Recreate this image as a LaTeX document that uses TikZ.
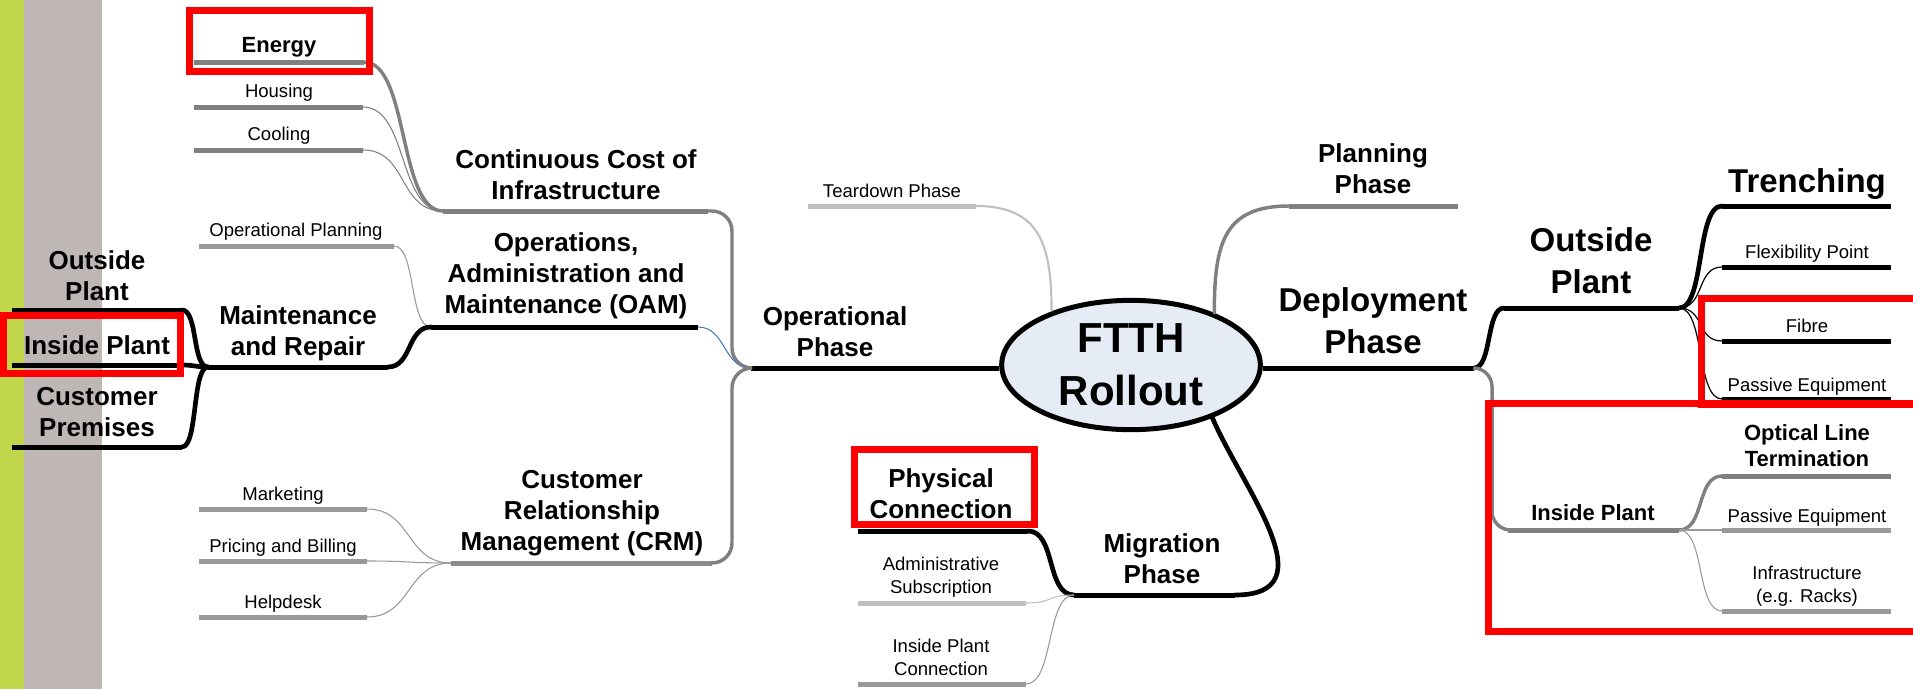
\documentclass[tikz,border=0pt]{standalone}
\usepackage{fontspec}
\setmainfont{Liberation Sans}
\usetikzlibrary{shapes.geometric,calc}
\definecolor{barGreen}{RGB}{193,214,74}
\definecolor{barTaupe}{RGB}{191,183,181}
\definecolor{ellFill}{RGB}{230,236,246}
\definecolor{gA}{RGB}{128,128,128}
\definecolor{gAB}{RGB}{140,140,140}
\definecolor{gB}{RGB}{153,153,153}
\definecolor{gC}{RGB}{192,192,192}
\definecolor{oamBlue}{RGB}{74,126,187}
\begin{document}
\begin{tikzpicture}[x=0.75pt,y=-0.75pt,
  tx/.style={inner sep=0pt, align=center, anchor=base},
  fbig/.style={tx, font=\fontsize{24.75}{31}\selectfont\bfseries},
  fmed/.style={tx, font=\fontsize{19.5}{23.25}\selectfont\bfseries},
  fsmb/.style={tx, font=\fontsize{16.5}{19.5}\selectfont\bfseries},
  freg/.style={tx, font=\fontsize{13.9}{17.25}\selectfont},
  ulK/.style={line width=3.75pt, black},
  ulA/.style={line width=3.75pt, gA},
  ulAB/.style={line width=3.75pt, gAB},
  ulB/.style={line width=3.75pt, gB},
  ulC/.style={line width=3.75pt, gC},
  cK/.style={line width=3.5pt, black, line cap=round},
  cKt/.style={line width=0.9pt, black},
  cA/.style={line width=2.6pt, gA, line cap=round},
  cAt/.style={line width=0.8pt, gA},
  cBt/.style={line width=0.8pt, gB},
  cC/.style={line width=1.6pt, gC},
  cCt/.style={line width=0.8pt, gC},
  redbox/.style={draw=red, line width=5.25pt, line join=miter}
]
\useasboundingbox (0,0) rectangle (1913,689);
% background bars
\fill[barGreen] (0,0) rectangle (24,689);
\fill[barTaupe] (24,0) rectangle (102,689);

% central topic
\node[ellipse, draw, line width=3.75pt, fill=ellFill, minimum width=194pt, minimum height=97pt,
      inner sep=0pt, align=center, font=\fontsize{31.5}{39.75}\selectfont\bfseries] (ftth) at (1131,365) {FTTH\\Rollout};

% coordinates (underline ends)
\coordinate (energyL) at (194,62);  \coordinate (energyR) at (364,62);
\coordinate (housingL) at (194,107); \coordinate (housingR) at (363,107);
\coordinate (coolingL) at (194,150); \coordinate (coolingR) at (363,150);
\coordinate (cciL) at (443,211); \coordinate (cciR) at (708,211);
\coordinate (oplanL) at (199,246); \coordinate (oplanR) at (394,246);
\coordinate (oamL) at (431,327); \coordinate (oamR) at (698,327);
\coordinate (mrL) at (208,367); \coordinate (mrR) at (388,367);
\coordinate (ospL) at (12,310); \coordinate (ospR) at (182,310);
\coordinate (ispL) at (12,365); \coordinate (ispR) at (182,365);
\coordinate (cpL) at (12,447); \coordinate (cpR) at (182,447);
\coordinate (crmL) at (451,563); \coordinate (crmR) at (712,563);
\coordinate (mktL) at (199,509); \coordinate (mktR) at (367,509);
\coordinate (prcL) at (199,561); \coordinate (prcR) at (367,561);
\coordinate (hlpL) at (199,617); \coordinate (hlpR) at (367,617);
\coordinate (opJ) at (751,368); \coordinate (opK) at (732,368);
\coordinate (tdL) at (808,206); \coordinate (tdR) at (976,206);
\coordinate (plL) at (1289,206); \coordinate (plR) at (1458,206);
\coordinate (pcL) at (858,531); \coordinate (pcR) at (1028,531);
\coordinate (asL) at (858,603); \coordinate (asR) at (1026,603);
\coordinate (ipcL) at (858,684); \coordinate (ipcR) at (1026,684);
\coordinate (migL) at (1074,595); \coordinate (migR) at (1235,595);
\coordinate (depR) at (1474,368);
\coordinate (orpL) at (1504,308); \coordinate (orpR) at (1679,308);
\coordinate (trL) at (1722,206); \coordinate (trR) at (1891,206);
\coordinate (flxL) at (1722,267); \coordinate (flxR) at (1891,267);
\coordinate (fibL) at (1722,341); \coordinate (fibR) at (1891,341);
\coordinate (peoL) at (1722,399); \coordinate (peoR) at (1891,399);
\coordinate (irpL) at (1508,530); \coordinate (irpR) at (1679,530); \coordinate (irpK) at (1492,530);
\coordinate (oltL) at (1722,476); \coordinate (oltR) at (1891,476);
\coordinate (peiL) at (1722,530); \coordinate (peiR) at (1891,530);
\coordinate (infL) at (1722,611); \coordinate (infR) at (1891,611);

% ---------- underlines ----------
\draw[ulA] (energyL) -- (energyR);
\draw[ulA] (housingL) -- (housingR);
\draw[ulA] (coolingL) -- (coolingR);
\draw[ulA] (cciL) -- (cciR);
\draw[ulB] (oplanL) -- (oplanR);
\draw[ulK] (oamL) -- (oamR);
\draw[ulK] (mrL) -- (mrR);
\draw[ulK] (ospL) -- (ospR);
\draw[ulK] (ispL) -- (ispR);
\draw[ulK] (cpL) -- (cpR);
\draw[ulAB] (crmL) -- (crmR);
\draw[ulB] (mktL) -- (mktR);
\draw[ulB] (prcL) -- (prcR);
\draw[ulB] (hlpL) -- (hlpR);
\draw[ulK] (opJ) -- (opJ -| ftth.west);
\draw[ulC] (tdL) -- (tdR);
\draw[ulA] (plL) -- (plR);
\draw[ulK] (pcL) -- (pcR);
\draw[ulC] (asL) -- (asR);
\draw[ulB] (ipcL) -- (ipcR);
\draw[ulK] (migL) -- (migR);
\draw[ulK] (ftth.east |- depR) -- (depR);
\draw[ulK] (orpL) -- (orpR);
\draw[ulK] (trL) -- (trR);
\draw[ulK] (flxL) -- (flxR);
\draw[ulK] (fibL) -- (fibR);
\draw[ulK] (peoL) -- (peoR);
\draw[ulA] (irpL) -- (irpR);
\draw[ulA] (oltL) -- (oltR);
\draw[ulB] (peiL) -- (peiR);
\draw[ulB] (infL) -- (infR);

% ---------- connectors ----------
\draw[cA] (energyR) .. controls +(45,0) and +(-45,0) .. (cciL);
\draw[cAt] (housingR) .. controls +(45,0) and +(-45,0) .. (cciL);
\draw[cAt] (coolingR) .. controls +(45,0) and +(-45,0) .. (cciL);
\draw[cA, rounded corners=15] (cciR) -| (opK) -- (opJ);
\draw[cBt] (oplanR) .. controls +(22,0) and +(-22,0) .. (oamL);
\draw[line width=0.8pt, oamBlue] (oamR) .. controls +(28,0) and +(-28,0) .. (opJ);
\draw[cK] (mrR) .. controls +(24,0) and +(-24,0) .. (oamL);
\draw[cK] (ospR) .. controls +(16,0) and +(-16,0) .. (mrL);
\draw[cK] (ispR) .. controls +(12,0) and +(-12,0) .. (mrL);
\draw[cK] (cpR) .. controls +(16,0) and +(-16,0) .. (mrL);
\draw[cA, rounded corners=15] (crmR) -| (opK) -- (opJ);
\draw[cBt] (mktR) .. controls +(45,0) and +(-45,0) .. (crmL);
\draw[cBt] (prcR) .. controls +(45,0) and +(-45,0) .. (crmL);
\draw[cBt] (hlpR) .. controls +(45,0) and +(-45,0) .. (crmL);
\draw[cC] (tdR) .. controls +(65,0) and +(0,-65) .. (ftth.146);
\draw[cA] (ftth.32) .. controls +(0,-70) and +(-65,0) .. (plL);
\draw[cK] (ftth.-33) .. controls +(30,70) and +(95,0) .. (migR);
\draw[cK] (pcR) .. controls +(28,0) and +(-28,0) .. (migL);
\draw[cCt] (asR) .. controls +(28,0) and +(-28,0) .. (migL);
\draw[cBt] (ipcR) .. controls +(28,0) and +(-28,0) .. (migL);
\draw[cK] (depR) .. controls +(18,0) and +(-18,0) .. (orpL);
\draw[cA, rounded corners=14] (depR) -| (irpK) -- (irpL);
\draw[cK] (orpR) .. controls +(26,0) and +(-26,0) .. (trL);
\draw[cKt] (orpR) .. controls +(26,0) and +(-26,0) .. (flxL);
\draw[cKt] (orpR) .. controls +(26,0) and +(-26,0) .. (fibL);
\draw[cKt] (orpR) .. controls +(26,0) and +(-26,0) .. (peoL);
\draw[cA] (irpR) .. controls +(26,0) and +(-26,0) .. (oltL);
\draw[cBt] (irpR) -- (peiL);
\draw[cBt] (irpR) .. controls +(26,0) and +(-26,0) .. (infL);

% ---------- texts ----------
\node[fsmb] (energy) at (279,52) {Energy};
\node[freg] (housing) at (279,97) {Housing};
\node[freg] (cooling) at (279,140) {Cooling};
\node[fmed] (cci) at (576,199) {Continuous Cost of\\Infrastructure};
\node[freg] (oplan) at (296,236) {Operational Planning};
\node[fmed] (oam) at (566,313) {Operations,\\Administration and\\Maintenance (OAM)};
\node[fmed] (mr) at (298,355) {Maintenance\\and Repair};
\node[fmed] (osp) at (97,300) {Outside\\Plant};
\node[fmed] (isp) at (97,354) {Inside Plant};
\node[fmed] (cp) at (97,436) {Customer\\Premises};
\node[fmed] (crm) at (582,550) {Customer\\Relationship\\Management (CRM)};
\node[freg] (mkt) at (283,500) {Marketing};
\node[freg] (prc) at (283,552) {Pricing and Billing};
\node[freg] (hlp) at (283,608) {Helpdesk};
\node[freg] (td) at (892,197) {Teardown Phase};
\node[fmed] (op) at (835,356) {Operational\\Phase};
\node[fmed] (pl) at (1373,193) {Planning\\Phase};
\node[fmed] (pc) at (941,518) {Physical\\Connection};
\node[freg] (as) at (941,593) {Administrative\\Subscription};
\node[freg] (ipc) at (941,675) {Inside Plant\\Connection};
\node[fmed] (mig) at (1162,583) {Migration\\Phase};
\node[fbig] (dep) at (1373,353) {Deployment\\Phase};
\node[fbig] (orp) at (1591,293) {Outside\\Plant};
\node[fbig] (tr) at (1807,192) {Trenching};
\node[freg] (flx) at (1807,258) {Flexibility Point};
\node[freg] (fib) at (1807,332) {Fibre};
\node[freg] (peo) at (1807,391) {Passive Equipment};
\node[fsmb] (irp) at (1593,520) {Inside Plant};
\node[fsmb] (olt) at (1807,466) {Optical Line\\Termination};
\node[freg] (pei) at (1807,522) {Passive Equipment};
\node[freg] (inf) at (1807,602) {Infrastructure\\(e.g. Racks)};

% ---------- red highlight boxes ----------
\draw[redbox] (189.5,10.5) rectangle (369.5,71.5);
\draw[redbox] (3.5,315.5) rectangle (180.5,373.5);
\draw[redbox] (854.5,449.5) rectangle (1034.5,524.5);
\draw[redbox] (1701.5,298.5) rectangle (1925,404.5);
\draw[redbox] (1488.5,403.5) rectangle (1925,631.5);
\end{tikzpicture}
\end{document}
